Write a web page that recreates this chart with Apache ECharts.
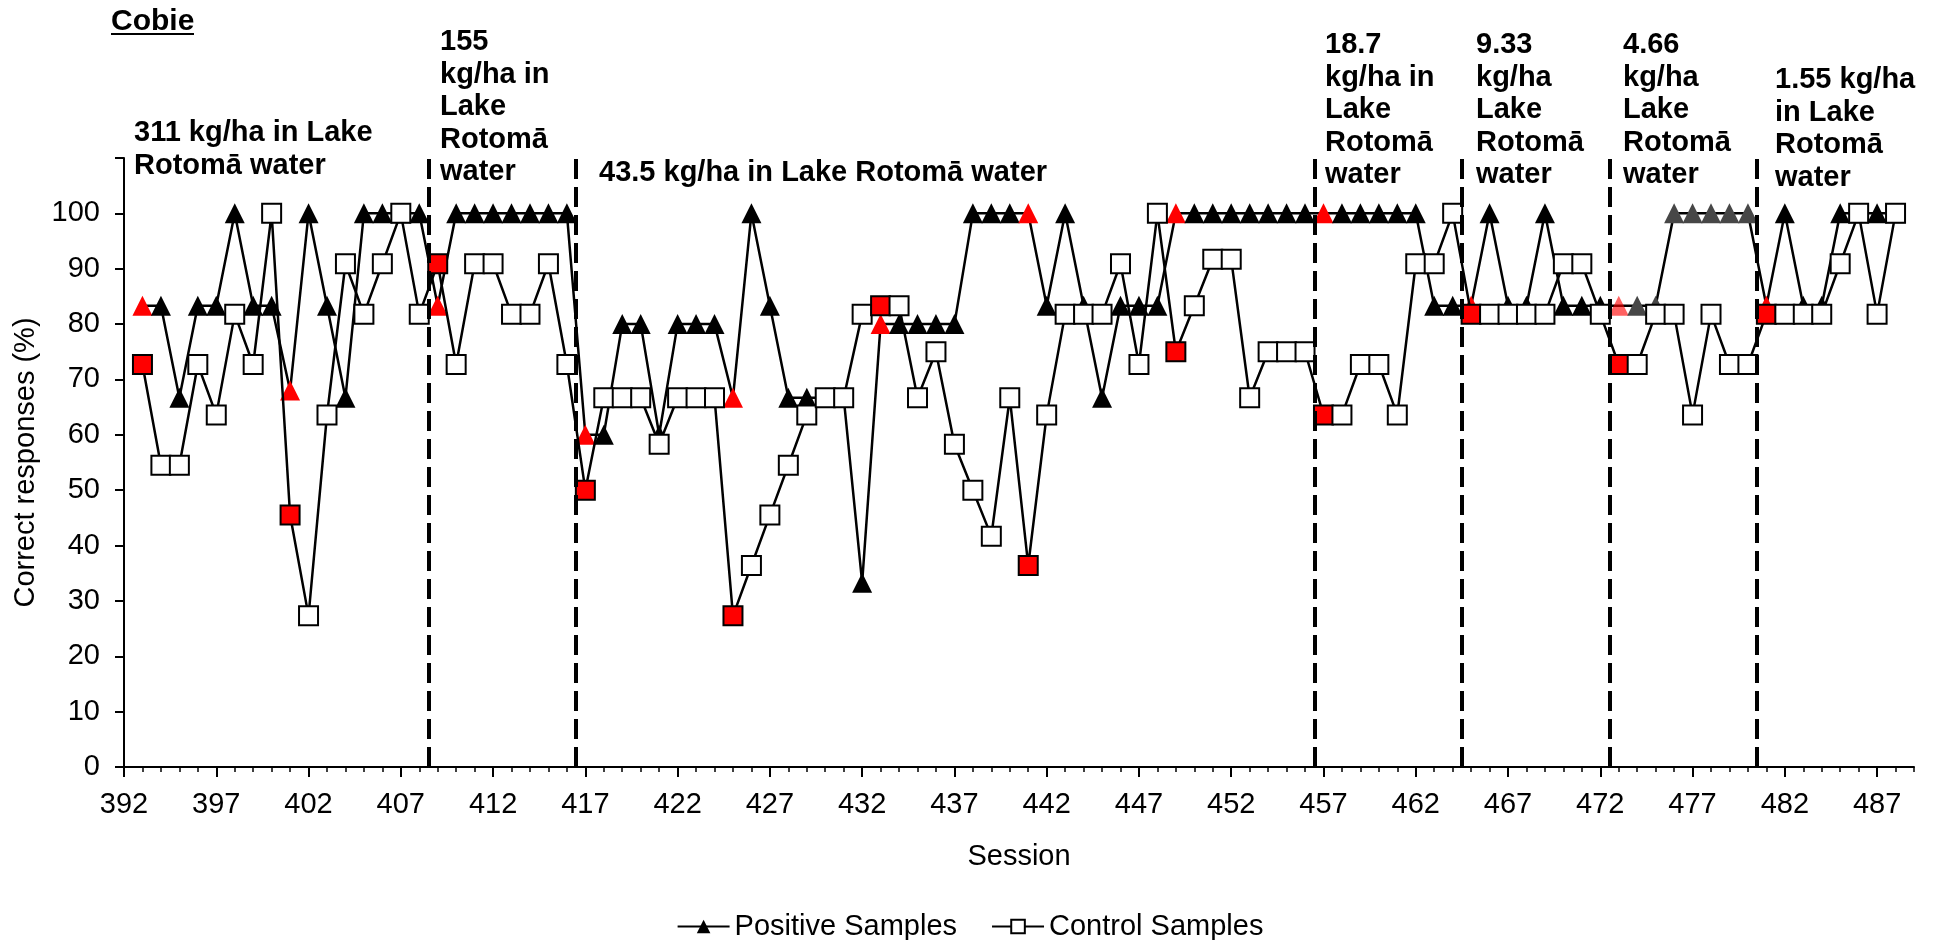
<!DOCTYPE html>
<html>
<head>
<meta charset="utf-8">
<script src="https://cdn.jsdelivr.net/npm/echarts@6/dist/echarts.min.js"></script>
<style>
html,body{margin:0;padding:0;background:#fff;overflow:hidden}
#chart{width:1940px;height:940px}
</style>
</head>
<body>
<div id="chart"></div>
<script>
// ---------- data ----------
const sessions = [
  393,394,395,396,397,398,399,400,401,402,403,404,405,406,407,408,
  409,410,411,412,413,414,415,416,417,418,419,420,421,422,423,424,
  425,426,427,428,429,430,431,432,433,434,435,436,437,438,439,440,
  441,442,443,444,445,446,447,448,449,450,451,452,453,454,455,456,
  457,458,459,460,461,462,463,464,465,466,467,468,469,470,471,472,
  473,474,475,476,477,478,479,480,481,482,483,484,485,486,487,488
];
const positiveSamples = [
  83.3,83.3,66.7,83.3,83.3,100,83.3,83.3,
  68,100,83.3,66.7,100,100,100,100,
  83.3,100,100,100,100,100,100,100,
  60,60,80,80,60,80,80,80,
  66.7,100,83.3,66.7,66.7,66.7,66.7,33.3,
  80,80,80,80,80,100,100,100,
  100,83.3,100,83.3,66.7,83.3,83.3,83.3,
  100,100,100,100,100,100,100,100,
  100,100,100,100,100,100,83.3,83.3,
  83.3,100,83.3,83.3,100,83.3,83.3,83.3,
  83.3,83.3,83.3,100,100,100,100,100,
  83.3,100,83.3,83.3,100,100,100,100
];
const controlSamples = [
  72.7,54.5,54.5,72.7,63.6,81.8,72.7,100,
  45.5,27.3,63.6,90.9,81.8,90.9,100,81.8,
  90.9,72.7,90.9,90.9,81.8,81.8,90.9,72.7,
  50,66.7,66.7,66.7,58.3,66.7,66.7,66.7,
  27.3,36.4,45.5,54.5,63.6,66.7,66.7,81.8,
  83.3,83.3,66.7,75,58.3,50,41.7,66.7,
  36.4,63.6,81.8,81.8,81.8,90.9,72.7,100,
  75,83.3,91.7,91.7,66.7,75,75,75,
  63.6,63.6,72.7,72.7,63.6,90.9,90.9,100,
  81.8,81.8,81.8,81.8,81.8,90.9,90.9,81.8,
  72.7,72.7,81.8,81.8,63.6,81.8,72.7,72.7,
  81.8,81.8,81.8,81.8,90.9,100,81.8,100
];
// sessions whose markers are highlighted
const redSessions = [393,401,409,417,425,433,441,449,457,465,473,481];
const lightRedPositive = [473];
const grayPositive = [474,475,476,477,478,479,480];
// boundaries between concentration phases
const phaseBoundaries = [408.5,416.5,456.5,464.5,472.5,480.5];
// x axis labels
const xTickLabels = [392,397,402,407,412,417,422,427,432,437,442,447,452,457,462,467,472,477,482,487];
const xMin = 392, xMax = 489;
const yMax = 110;
const phaseLabels = [
  '311 kg/ha in Lake\nRotomā water',
  '155\nkg/ha in\nLake\nRotomā\nwater',
  '43.5 kg/ha in Lake Rotomā water',
  '18.7\nkg/ha in\nLake\nRotomā\nwater',
  '9.33\nkg/ha\nLake\nRotomā\nwater',
  '4.66\nkg/ha\nLake\nRotomā\nwater',
  '1.55 kg/ha\nin Lake\nRotomā\nwater'
];
const chartTitle = 'Cobie';
const seriesNames = ['Positive Samples','Control Samples'];

// ---------- layout ----------
const FONT = '"Liberation Sans", Arial, Helvetica, sans-serif';
const FS = 29;
const labelPos = [[134,117],[440,26],[599,157],[1325,29],[1476,29],[1623,29],[1775,64]];

function posColor(s) {
  if (lightRedPositive.includes(s)) return 'rgba(255,0,0,0.62)';
  if (grayPositive.includes(s)) return '#474747';
  if (redSessions.includes(s)) return '#ff0000';
  return '#000000';
}
const posData = sessions.map((s, i) => ({
  value: [s, positiveSamples[i]],
  itemStyle: { color: posColor(s) }
}));
const ctlData = sessions.map((s, i) => ({
  value: [s, controlSamples[i]],
  itemStyle: { color: redSessions.includes(s) ? '#ff0000' : '#ffffff' }
}));

const graphic = phaseLabels.map((t, i) => ({
  type: 'text', x: labelPos[i][0], y: labelPos[i][1], silent: true,
  style: { text: t, fill: '#000', font: 'bold 29px ' + FONT, lineHeight: 32.5, verticalAlign: 'top', align: 'left' }
}));
graphic.push({
  type: 'text', x: 111, y: 5, silent: true,
  style: { text: chartTitle, fill: '#000', font: 'bold 30px ' + FONT, lineHeight: 33, verticalAlign: 'top', align: 'left' }
});
graphic.push({
  type: 'line', silent: true,
  shape: { x1: 111, y1: 34, x2: 194, y2: 34 },
  style: { stroke: '#000', lineWidth: 2 }
});

const chart = echarts.init(document.getElementById('chart'), null, { renderer: 'canvas' });
chart.setOption({
  animation: false,
  backgroundColor: '#ffffff',
  textStyle: { fontFamily: FONT, color: '#000' },
  grid: { left: 124, right: 26, top: 158, bottom: 173, containLabel: false, outerBoundsMode: 'none' },
  legend: {
    data: seriesNames,
    top: 907, left: 'center',
    itemWidth: 52, itemHeight: 17, itemGap: 34,
    textStyle: { fontSize: FS, color: '#000', fontFamily: FONT },
    selectedMode: false
  },
  xAxis: [{
    type: 'value', min: xMin, max: xMax, interval: 1,
    name: 'Session', nameLocation: 'middle', nameGap: 75,
    nameTextStyle: { fontSize: FS, color: '#000', fontFamily: FONT },
    axisLine: { show: true, onZero: false, lineStyle: { color: '#000', width: 2 } },
    axisTick: { show: true, length: 5, inside: false, lineStyle: { color: '#000', width: 1.5 } },
    axisLabel: {
      show: true, margin: 23, fontSize: FS, color: '#000', fontFamily: FONT,
      formatter: v => (xTickLabels.includes(v) ? String(v) : '')
    },
    splitLine: { show: false }
  }, {
    type: 'value', min: xMin, max: xMax, position: 'bottom',
    axisLine: { show: false },
    axisTick: { show: true, length: 10, inside: false, customValues: xTickLabels, lineStyle: { color: '#000', width: 2 } },
    axisLabel: { show: false },
    splitLine: { show: false }
  }],
  yAxis: {
    type: 'value', min: 0, max: yMax, interval: 10,
    name: 'Correct responses (%)', nameLocation: 'middle', nameGap: 84, nameRotate: 90,
    nameTextStyle: { fontSize: FS, color: '#000', fontFamily: FONT },
    axisLine: { show: true, lineStyle: { color: '#000', width: 2 } },
    axisTick: { show: true, length: 9, inside: false, lineStyle: { color: '#000', width: 2 } },
    axisLabel: { margin: 24, fontSize: FS, color: '#000', fontFamily: FONT, formatter: v => (v <= 100 ? String(v) : '') },
    splitLine: { show: false }
  },
  series: [{
    name: seriesNames[0], type: 'line', xAxisIndex: 0, data: posData,
    symbol: 'triangle', symbolSize: 20,
    itemStyle: { color: '#000' },
    lineStyle: { color: '#000', width: 2.5 },
    emphasis: { disabled: true }, z: 3
  }, {
    name: seriesNames[1], type: 'line', xAxisIndex: 0, data: ctlData,
    symbol: 'rect', symbolSize: 19,
    itemStyle: { color: '#ffffff', borderColor: '#000', borderWidth: 2 },
    lineStyle: { color: '#000', width: 2.5 },
    emphasis: { disabled: true }, z: 4,
    markLine: {
      silent: true, symbol: 'none', animation: false,
      label: { show: false },
      lineStyle: { color: '#000', width: 4, type: [20, 8] },
      emphasis: { disabled: true },
      data: phaseBoundaries.map(v => ({ xAxis: v }))
    }
  }],
  graphic: graphic
});
</script>
</body>
</html>
